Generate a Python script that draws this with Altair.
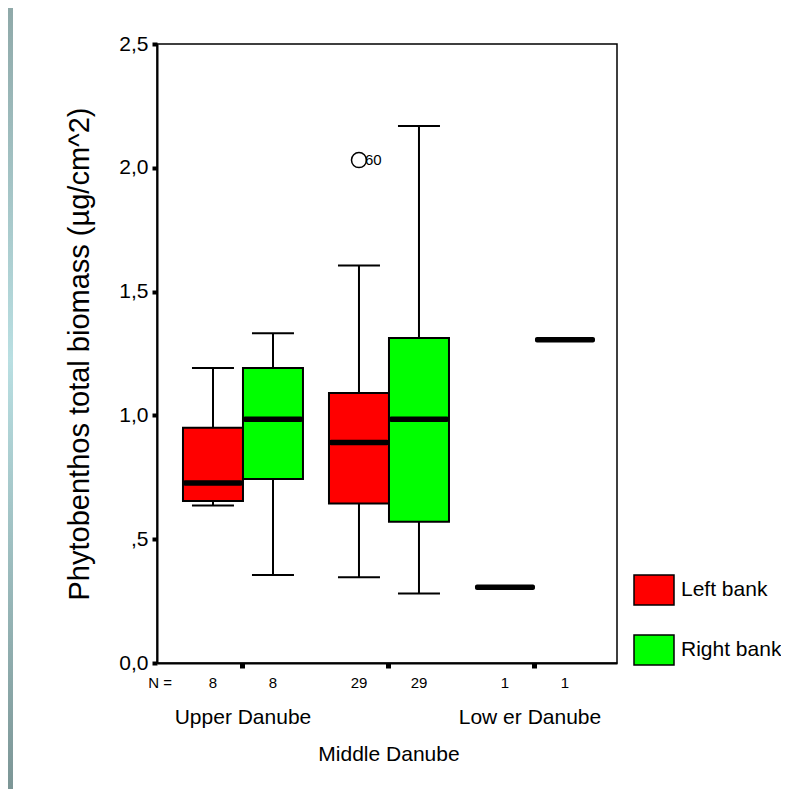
import altair as alt
import pandas as pd

# ---------------- data ----------------
groups = ["Upper Danube", "Middle Danube", "Lower Danube"]
group_labels = ["Upper Danube", "Middle Danube", "Low er Danube"]
banks = ["Left bank", "Right bank"]
bank_colors = ["#ff0000", "#00ff00"]

row_group = ["Upper Danube", "Upper Danube", "Middle Danube", "Middle Danube", "Lower Danube", "Lower Danube"]
row_bank = ["Left bank", "Right bank", "Left bank", "Right bank", "Left bank", "Right bank"]
n_values = [8, 8, 29, 29, 1, 1]
whisker_low = [0.636, 0.355, 0.346, 0.281, None, None]
q1 = [0.654, 0.743, 0.644, 0.570, None, None]
median = [0.727, 0.984, 0.891, 0.984, 0.306, 1.306]
q3 = [0.950, 1.191, 1.090, 1.313, None, None]
whisker_high = [1.191, 1.332, 1.605, 2.169, None, None]

outlier_group = ["Middle Danube"]
outlier_bank = ["Left bank"]
outlier_value = [2.031]
outlier_case = ["60"]

y_ticks = [0, 0.5, 1.0, 1.5, 2.0, 2.5]
y_tick_labels = ["0,0", ",5", "1,0", "1,5", "2,0", "2,5"]
y_title = "Phytobenthos total biomass (µg/cm^2)"

FONT = "Liberation Sans, Arial, sans-serif"

stats = pd.DataFrame({
    "group": row_group, "bank": row_bank, "n": n_values,
    "lo": whisker_low, "q1": q1, "med": median, "q3": q3, "hi": whisker_high,
})
outliers = pd.DataFrame({"group": outlier_group, "bank": outlier_bank,
                         "value": outlier_value, "case": outlier_case})
glabels = pd.DataFrame({"group": groups, "label": group_labels})

label_expr = "".join(f"datum.value == {v} ? '{l}' : " for v, l in zip(y_ticks, y_tick_labels)) + "''"

x_enc = alt.X("group:N",
              scale=alt.Scale(domain=groups, paddingInner=0, paddingOuter=0.0753, align=0.59),
              axis=alt.Axis(labels=False, title=None, ticks=True, tickSize=5, tickWidth=5,
                            tickColor="black", domainColor="black", domainWidth=2, grid=False))
xo_enc = alt.XOffset("bank:N", scale=alt.Scale(domain=banks, paddingInner=0, paddingOuter=0.2167))
y_scale = alt.Scale(domain=[0, 2.5], nice=False, zero=True)
y_axis = alt.Axis(values=y_ticks, labelExpr=label_expr, tickSize=5, tickWidth=4, tickColor="black",
                  domainColor="black", domainWidth=2, grid=False,
                  labelFontSize=21, labelFont=FONT, labelColor="black", labelPadding=4,
                  title=y_title, titleFontSize=29, titleFont=FONT, titleFontWeight="normal",
                  titleColor="black", titleX=-78, titleY=309.5, titleAngle=270,
                  titleAlign="center", titleBaseline="middle")

base = alt.Chart(stats)
valid = "isValid(datum.q1)"

whiskers = base.mark_rule(color="black", strokeWidth=2, opacity=1).encode(
    x=x_enc, xOffset=xo_enc,
    y=alt.Y("lo:Q", scale=y_scale, axis=y_axis), y2="hi:Q",
).transform_filter(valid)

boxes = base.mark_bar(stroke="black", strokeWidth=2, opacity=1).encode(
    x=x_enc, xOffset=xo_enc,
    y=alt.Y("q1:Q", scale=y_scale, axis=y_axis), y2="q3:Q",
    color=alt.Color("bank:N", scale=alt.Scale(domain=banks, range=bank_colors),
                    legend=alt.Legend(title=None, orient="none", legendX=476, legendY=525,
                                      symbolType="M-1,-0.75L1,-0.75L1,0.75L-1,0.75Z",
                                      symbolSize=1600, symbolStrokeColor="black",
                                      symbolStrokeWidth=1.5, symbolOpacity=1,
                                      labelFontSize=21, labelFont=FONT, labelColor="black",
                                      labelOffset=6, rowPadding=21)),
).transform_filter(valid)

cap_lo = base.mark_tick(color="black", thickness=2, size=42, opacity=1).encode(
    x=x_enc, xOffset=xo_enc, y=alt.Y("lo:Q", scale=y_scale, axis=y_axis)
).transform_filter(valid)
cap_hi = base.mark_tick(color="black", thickness=2, size=42, opacity=1).encode(
    x=x_enc, xOffset=xo_enc, y=alt.Y("hi:Q", scale=y_scale, axis=y_axis)
).transform_filter(valid)

medians = base.mark_tick(color="black", thickness=5.5, size=60, cornerRadius=2, opacity=1).encode(
    x=x_enc, xOffset=xo_enc, y=alt.Y("med:Q", scale=y_scale, axis=y_axis)
)

out_pts = alt.Chart(outliers).mark_point(shape="circle", size=225, filled=False,
                                         color="black", strokeWidth=1.5, opacity=1).encode(
    x=x_enc, xOffset=xo_enc, y=alt.Y("value:Q", scale=y_scale, axis=y_axis)
)
out_txt = alt.Chart(outliers).mark_text(align="left", baseline="middle", dx=6, fontSize=15,
                                        font=FONT, color="black").encode(
    x=x_enc, xOffset=xo_enc, y=alt.Y("value:Q", scale=y_scale, axis=y_axis), text="case:N"
)

n_txt = base.mark_text(baseline="middle", fontSize=15, font=FONT, color="black").encode(
    x=x_enc, xOffset=xo_enc, y=alt.value(639), text="n:Q"
)
n_head = alt.Chart(pd.DataFrame({"t": ["N ="]})).mark_text(
    baseline="middle", fontSize=15, font=FONT, color="black").encode(
    x=alt.value(3), y=alt.value(639), text="t:N")

g_top = alt.Chart(glabels).mark_text(baseline="middle", fontSize=21, font=FONT, color="black").encode(
    x=x_enc, y=alt.value(674), text="label:N"
).transform_filter("datum.group == 'Upper Danube'")
g_low = alt.Chart(glabels).mark_text(baseline="middle", fontSize=21, font=FONT, color="black",
                                     dx=-5).encode(
    x=x_enc, y=alt.value(674), text="label:N"
).transform_filter("datum.group == 'Lower Danube'")
g_bot = alt.Chart(glabels).mark_text(baseline="middle", fontSize=21, font=FONT, color="black").encode(
    x=x_enc, y=alt.value(711), text="label:N"
).transform_filter("datum.group == 'Middle Danube'")

strip = alt.Chart(pd.DataFrame({"a": [0]})).mark_rect(
    color=alt.LinearGradient(gradient="linear", x1=0, y1=0, x2=0, y2=1,
                             stops=[alt.GradientStop(offset=0, color="#8fa9a9"),
                                    alt.GradientStop(offset=0.45, color="#b9dfe2"),
                                    alt.GradientStop(offset=1, color="#7c9696")])
).encode(x=alt.value(-149), x2=alt.value(-144), y=alt.value(-36), y2=alt.value(745))

chart = alt.layer(
    strip, whiskers, boxes, cap_lo, cap_hi, medians, out_pts, out_txt, n_txt, n_head,
    g_top, g_low, g_bot
).properties(
    width=460, height=619,
    autosize=alt.AutoSizeParams(type="none"),
    padding={"left": 149, "top": 36, "right": 164, "bottom": 126},
    background="white",
).configure_view(stroke="black", strokeWidth=1.5)

chart.save("out.html", embed_options={"renderer": "svg", "actions": False})
